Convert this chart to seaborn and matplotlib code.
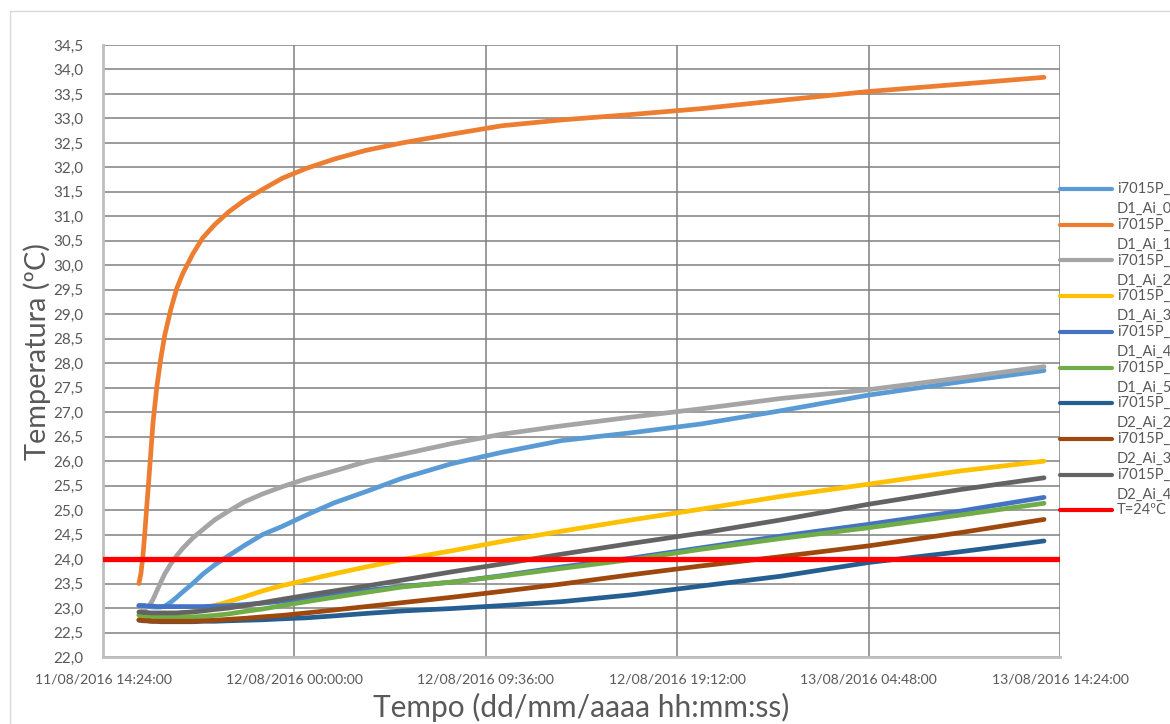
import numpy as np
import pandas as pd
import seaborn as sns
import matplotlib
matplotlib.use("Agg")
import matplotlib.pyplot as plt
from matplotlib.lines import Line2D
from matplotlib.patches import Rectangle

# Elapsed time in hours since 11/08/2016 14:24:00
hours = [1.8, 1.9, 2.0, 2.1, 2.2, 2.35, 2.5, 2.7, 2.9, 3.1, 3.4, 3.7, 4.0, 4.5, 5.0,
         5.6, 6.3, 7.1, 8.0, 9.0, 10.2, 11.6, 13.2, 15.0, 17.5, 20.0, 23.0, 26.5,
         30.0, 34.0, 38.4, 43.0, 47.2]

# Logged temperatures (ºC)
d1_ai_0 = [23.05, 23.05, 23.04, 23.04, 23.03, 23.03, 23.02, 23.02, 23.02, 23.04, 23.12,
           23.22, 23.33, 23.5, 23.69, 23.88, 24.07, 24.28, 24.5, 24.67, 24.9, 25.15,
           25.38, 25.65, 25.95, 26.18, 26.42, 26.58, 26.76, 27.03, 27.35, 27.62, 27.85]
d1_ai_1 = [23.5, 23.7, 24.05, 24.55, 25.1, 25.9, 26.75, 27.52, 28.1, 28.58, 29.1,
           29.53, 29.83, 30.23, 30.56, 30.83, 31.09, 31.33, 31.55, 31.78, 31.98, 32.17,
           32.35, 32.5, 32.68, 32.85, 32.97, 33.08, 33.2, 33.37, 33.55, 33.7, 33.84]
d1_ai_2 = [23.03, 23.02, 23.0, 23.0, 23.02, 23.07, 23.17, 23.35, 23.53, 23.7, 23.9,
           24.07, 24.22, 24.43, 24.6, 24.8, 24.98, 25.17, 25.33, 25.48, 25.64, 25.8,
           25.99, 26.14, 26.36, 26.55, 26.72, 26.9, 27.07, 27.28, 27.46, 27.7, 27.93]
d1_ai_3 = [22.85, 22.84, 22.84, 22.83, 22.83, 22.82, 22.82, 22.82, 22.82, 22.83, 22.84,
           22.86, 22.88, 22.93, 22.98, 23.05, 23.13, 23.23, 23.35, 23.46, 23.57, 23.7,
           23.84, 23.99, 24.17, 24.36, 24.57, 24.8, 25.02, 25.28, 25.53, 25.8, 26.0]
d1_ai_4 = [23.05, 23.05, 23.05, 23.05, 23.04, 23.04, 23.04, 23.03, 23.03, 23.03, 23.03,
           23.03, 23.03, 23.03, 23.03, 23.04, 23.05, 23.07, 23.1, 23.14, 23.2, 23.28,
           23.36, 23.44, 23.53, 23.66, 23.84, 24.02, 24.23, 24.47, 24.71, 24.98, 25.26]
d1_ai_5 = [22.86, 22.85, 22.85, 22.84, 22.84, 22.83, 22.83, 22.82, 22.82, 22.81, 22.81,
           22.81, 22.81, 22.82, 22.83, 22.85, 22.88, 22.93, 22.98, 23.05, 23.13, 23.22,
           23.32, 23.43, 23.53, 23.65, 23.81, 23.99, 24.2, 24.42, 24.64, 24.9, 25.14]
d2_ai_2 = [22.75, 22.75, 22.74, 22.74, 22.74, 22.73, 22.73, 22.73, 22.72, 22.72, 22.72,
           22.72, 22.72, 22.72, 22.73, 22.73, 22.74, 22.75, 22.76, 22.78, 22.8, 22.84,
           22.89, 22.94, 22.99, 23.05, 23.13, 23.27, 23.45, 23.65, 23.93, 24.15, 24.37]
d2_ai_3 = [22.76, 22.75, 22.75, 22.74, 22.74, 22.74, 22.73, 22.73, 22.73, 22.73, 22.73,
           22.73, 22.73, 22.73, 22.74, 22.75, 22.77, 22.79, 22.82, 22.85, 22.9, 22.96,
           23.03, 23.11, 23.22, 23.34, 23.49, 23.68, 23.86, 24.05, 24.27, 24.54, 24.81]
d2_ai_4 = [22.92, 22.92, 22.91, 22.91, 22.91, 22.9, 22.9, 22.9, 22.9, 22.9, 22.9,
           22.9, 22.91, 22.92, 22.94, 22.97, 23.0, 23.05, 23.11, 23.18, 23.26, 23.35,
           23.45, 23.57, 23.74, 23.9, 24.1, 24.32, 24.53, 24.8, 25.12, 25.42, 25.66]

# Reference temperature line
limit_hours = [0.0, 48.0]
limit_temp = 24.0

series_names = ["i7015P_D1_Ai_0", "i7015P_D1_Ai_1", "i7015P_D1_Ai_2", "i7015P_D1_Ai_3",
                "i7015P_D1_Ai_4", "i7015P_D1_Ai_5", "i7015P_D2_Ai_2", "i7015P_D2_Ai_3",
                "i7015P_D2_Ai_4"]
series_values = [d1_ai_0, d1_ai_1, d1_ai_2, d1_ai_3, d1_ai_4, d1_ai_5,
                 d2_ai_2, d2_ai_3, d2_ai_4]
limit_name = "T=24ºC"

x_tick_hours = [0.0, 9.6, 19.2, 28.8, 38.4, 48.0]
x_tick_labels = ["11/08/2016 14:24:00", "12/08/2016 00:00:00", "12/08/2016 09:36:00",
                 "12/08/2016 19:12:00", "13/08/2016 04:48:00", "13/08/2016 14:24:00"]
y_ticks = [22.0 + 0.5 * i for i in range(26)]

colors = ["#5B9BD5", "#ED7D31", "#A5A5A5", "#FFC000", "#4472C4", "#70AD47",
          "#255E91", "#9E480E", "#636363"]
limit_color = "#FF0000"
text_color = "#595959"

sns.set_theme(style="white")
plt.rcParams["font.family"] = ["Lato", "DejaVu Sans"]

W, H = 1170, 724
fig = plt.figure(figsize=(W / 100, H / 100), dpi=100)
ax = fig.add_axes([103 / W, 1 - 657 / H, (1060 - 103) / W, (657 - 45) / H])

frames = []
for name, vals in zip(series_names, series_values):
    frames.append(pd.DataFrame({"hours": hours, "temp": vals, "series": name}))
df = pd.concat(frames, ignore_index=True)

sns.lineplot(data=df, x="hours", y="temp", hue="series", hue_order=series_names,
             palette=colors, estimator=None, sort=False, legend=False,
             linewidth=3.4, solid_capstyle="round", solid_joinstyle="round",
             ax=ax, zorder=3)

limit_df = pd.DataFrame({"hours": limit_hours, "temp": [limit_temp] * len(limit_hours)})
sns.lineplot(data=limit_df, x="hours", y="temp", color=limit_color, linewidth=3.8,
             estimator=None, legend=False, ax=ax, zorder=4)

ax.set_xlim(0, 48)
ax.set_ylim(22, 34.5)
ax.set_xticks(x_tick_hours)
ax.set_xticklabels(x_tick_labels)
ax.set_yticks(y_ticks)
ax.set_yticklabels([f"{v:.1f}".replace(".", ",") for v in y_ticks])
ax.tick_params(axis="both", length=0, colors=text_color)
ax.tick_params(axis="x", labelsize=10.1, pad=12)
ax.tick_params(axis="y", labelsize=11, pad=14)
ax.set_xlabel("")
ax.set_ylabel("")

ax.grid(True, color="#808080", linewidth=1.1)
ax.set_axisbelow(True)
for side in ["top", "right"]:
    ax.spines[side].set_visible(False)
for side in ["left", "bottom"]:
    ax.spines[side].set_color("#BFBFBF")
    ax.spines[side].set_linewidth(2.0)
    ax.spines[side].set_zorder(2.5)

fig.text(581 / W, 1 - 707 / H, "Tempo (dd/mm/aaaa hh:mm:ss)", ha="center", va="center",
         fontsize=21.5, color=text_color)
fig.text(37 / W, 1 - 352 / H, "Temperatura (ºC)", ha="center", va="center",
         rotation=90, fontsize=20.8, color=text_color)

# Chart-area frame
fig.add_artist(Rectangle((10 / W, -0.1), 1.2, 1 - 11 / H + 0.1, transform=fig.transFigure,
                         fill=False, edgecolor="#D9D9D9", linewidth=1.0))

# Legend drawn at the right edge of the chart
legend_top = 189
legend_step = 35.7
for i, (name, col) in enumerate(zip(series_names + [limit_name], colors + [limit_color])):
    yy = legend_top + i * legend_step
    fig.add_artist(Line2D([1060 / W, 1112 / W], [1 - yy / H, 1 - yy / H],
                          transform=fig.transFigure, color=col, linewidth=3.0,
                          solid_capstyle="round"))
    if name == limit_name:
        fig.text(1117 / W, 1 - yy / H, name, ha="left", va="center",
                 fontsize=10.5, color=text_color)
    else:
        fig.text(1117 / W, 1 - yy / H, name[:7], ha="left", va="center",
                 fontsize=10.5, color=text_color)
        fig.text(1117 / W, 1 - (yy + 20) / H, name[7:], ha="left", va="center",
                 fontsize=10.5, color=text_color)

fig.savefig("out.png", dpi=100, facecolor="white")
